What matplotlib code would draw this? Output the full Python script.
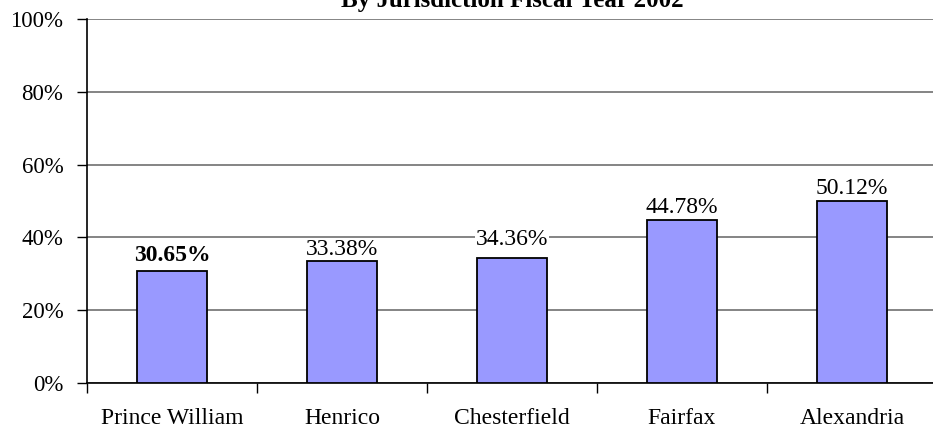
import matplotlib
matplotlib.use("Agg")
import matplotlib.pyplot as plt
import numpy as np

plt.rcParams["font.family"] = ["Liberation Serif", "DejaVu Serif"]

categories = ["Prince William", "Henrico", "Chesterfield", "Fairfax", "Alexandria"]
values = [30.65, 33.38, 34.36, 44.78, 50.12]
bold_label = [True, False, False, False, False]
yticks = [0, 20, 40, 60, 80, 100]

fig = plt.figure(figsize=(9.33, 4.3), dpi=100)
ax = fig.add_axes([87 / 933, 47 / 430, 850 / 933, 364 / 430])

x = np.arange(len(categories))
ax.bar(x, values, width=0.41, color="#9999FF", edgecolor="black", linewidth=1.3, zorder=3)

# the Chesterfield label sits a bit higher in the original, across the 40% line
label_lift = {"Chesterfield": 1.6}

for xi, cat, v, b in zip(x, categories, values, bold_label):
    lift = (1.6 if b else 0.5) + label_lift.get(cat, 0)
    ax.text(
        xi, v + lift, f"{v:.2f}%",
        ha="center", va="bottom",
        fontsize=17,
        fontweight="bold" if b else "normal",
        bbox=dict(facecolor="white", edgecolor="none", pad=0.3),
        zorder=4,
    )

ax.set_xlim(-0.5, len(categories) - 0.5)
ax.set_ylim(0, 100)
ax.set_yticks(yticks)
ax.set_yticklabels([f"{t}%" for t in yticks], fontsize=16.5)
ax.yaxis.grid(True, color="#707070", linewidth=1.2, zorder=0)
ax.set_axisbelow(True)

# category labels in the middle, ticks on the boundaries
ax.set_xticks(np.arange(len(categories) + 1) - 0.5)
ax.set_xticklabels([])
ax.set_xticks(x, minor=True)
ax.set_xticklabels(categories, minor=True, fontsize=17)
ax.tick_params(axis="x", which="minor", length=0, pad=18)
ax.tick_params(axis="x", which="major", length=7, width=1, direction="out")
ax.tick_params(axis="y", length=7, width=1, direction="out", pad=10)

for s in ["top", "right"]:
    ax.spines[s].set_visible(False)
ax.spines["left"].set_linewidth(1.2)
ax.spines["bottom"].set_linewidth(1.2)

fig.text(512 / 933, 1 - 7 / 430, "By Jurisdiction Fiscal Year 2002",
         ha="center", va="baseline", fontsize=18, fontweight="bold")

fig.savefig("out.png", dpi=100)
